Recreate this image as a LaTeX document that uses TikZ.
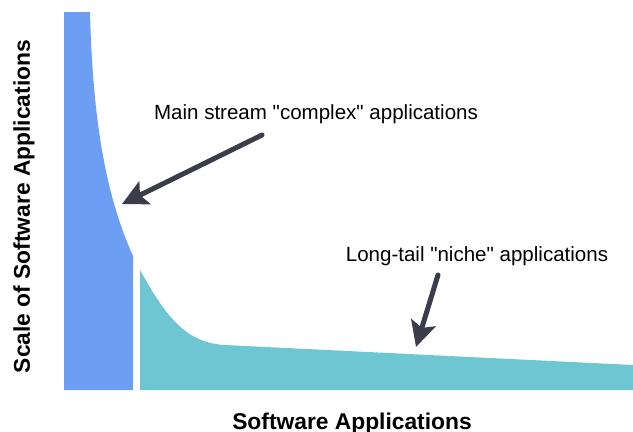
\documentclass[tikz,border=0pt]{standalone}
\usepackage{fontspec}
\setmainfont{Liberation Sans}[Ligatures=TeXOff]
\usetikzlibrary{arrows.meta}
\definecolor{mainblue}{RGB}{108,158,243}
\definecolor{tailteal}{RGB}{110,198,210}
\definecolor{arrowgray}{RGB}{60,61,74}

\begin{document}
\begin{tikzpicture}[
    x=0.75pt, y=-0.75pt,
    mainstream/.style={fill=mainblue},
    longtail/.style={fill=tailteal},
    pointer/.style={draw=arrowgray, line width=3.75pt, line cap=round,
        -{Stealth[length=19pt, width=19pt, inset=4pt]}},
    note/.style={font=\fontsize{15.4}{18}\selectfont, inner sep=0pt, anchor=base},
    axis/.style={font=\fontsize{17.1}{20}\selectfont\bfseries, inner sep=0pt, anchor=base}
]
    \useasboundingbox (0,0) rectangle (633,432);
    \fill[mainstream] (64,12) -- (90,12) .. controls (93,130) and (108,200) .. (133,256)
        -- (133,390) -- (64,390) -- cycle;
    \fill[longtail] (140,270) .. controls (165,315) and (185,343) .. (225,345)
        -- (633,365) -- (633,390) -- (140,390) -- cycle;
    \node[note] (main) at (316,119) {Main stream "complex" applications};
    \node[note] (tail) at (477,261) {Long-tail "niche" applications};
    \node[axis] (xlabel) at (352,429) {Software Applications};
    \node[axis, rotate=90] (ylabel) at (30,206.5) {Scale of Software Applications};
    \coordinate (mainfrom) at (262,135);
    \coordinate (mainto) at (122,204);
    \coordinate (tailfrom) at (438,275);
    \coordinate (tailto) at (416,347);
    \draw[pointer] (mainfrom) -- (mainto);
    \draw[pointer] (tailfrom) -- (tailto);
\end{tikzpicture}
\end{document}
